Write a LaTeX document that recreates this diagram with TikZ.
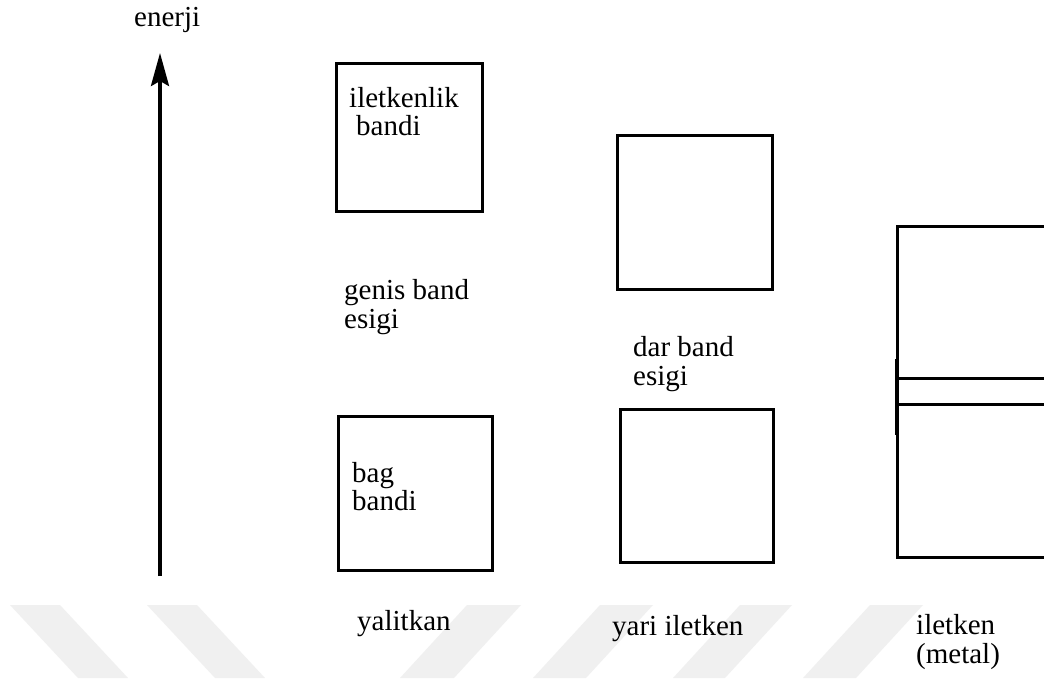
\documentclass[tikz,border=0pt]{standalone}
\usepackage{fontspec}
\setmainfont{Liberation Serif}
\usetikzlibrary{arrows.meta}
\begin{document}
\begin{tikzpicture}[x=1pt,y=-1pt,
  band/.style={draw=black, line width=3pt, rectangle, inner sep=0pt, outer sep=0pt},
  lbl/.style={anchor=base west, inner sep=0pt, font=\fontsize{29}{29}\selectfont},
  wm/.style={fill=black!6, draw=none},
  axis/.style={line width=3.5pt, -{Stealth[length=33pt,width=18pt,inset=5pt]}}]
\clip (0,0) rectangle (1044,678);
\fill[white] (0,0) rectangle (1044,678);
% watermark stripes
\fill[wm] (10,605) -- (60,605) -- (128,678) -- (78,678) -- cycle;
\fill[wm] (147,605) -- (197,605) -- (265,678) -- (215,678) -- cycle;
\fill[wm] (467,605) -- (521,605) -- (454,678) -- (400,678) -- cycle;
\fill[wm] (600,605) -- (653,605) -- (586,678) -- (533,678) -- cycle;
\fill[wm] (740,605) -- (792,605) -- (725,678) -- (673,678) -- cycle;
\fill[wm] (870,605) -- (923,605) -- (856,678) -- (803,678) -- cycle;
% energy axis
\coordinate (axbase) at (160,576);
\coordinate (axtip) at (160,53);
\draw[axis] (axbase) -- (axtip);
\node[lbl] (enerji) at (134,26) {enerji};
% insulator
\node[band, minimum width=146pt, minimum height=148pt] (cb1) at (409,137) {};
\node[lbl] (cb1a) at (349,107) {iletkenlik};
\node[lbl] (cb1b) at (356,135.5) {bandi};
\node[lbl] (gap1a) at (344,299) {genis band};
\node[lbl] (gap1b) at (344,328) {esigi};
\node[band, minimum width=154pt, minimum height=154pt] (vb1) at (415,493) {};
\node[lbl] (vb1a) at (352,482) {bag};
\node[lbl] (vb1b) at (352,510) {bandi};
\node[lbl] (ins) at (357,630) {yalitkan};
% semiconductor
\node[band, minimum width=155pt, minimum height=154pt] (cb2) at (694.5,212) {};
\node[lbl] (gap2a) at (633,356) {dar band};
\node[lbl] (gap2b) at (633,385) {esigi};
\node[band, minimum width=153pt, minimum height=153pt] (vb2) at (696.5,485.5) {};
\node[lbl] (semi) at (612,635) {yari iletken};
% metal
\node[band, minimum width=200pt, minimum height=331pt] (mb) at (997,391.5) {};
\coordinate (m1) at (mb.west |- 0,378);
\coordinate (m2) at (mb.west |- 0,404);
\coordinate (mt) at (mb.west |- 0,359);
\coordinate (mbt) at (mb.west |- 0,435);
\draw[line width=3pt] (m1) -- (m1 -| mb.east);
\draw[line width=3pt] (m2) -- (m2 -| mb.east);
\draw[line width=4.5pt] (mt) -- (mbt);
\node[lbl] (met1) at (916,634) {iletken};
\node[lbl] (met2) at (916,663) {(metal)};
\end{tikzpicture}
\end{document}
